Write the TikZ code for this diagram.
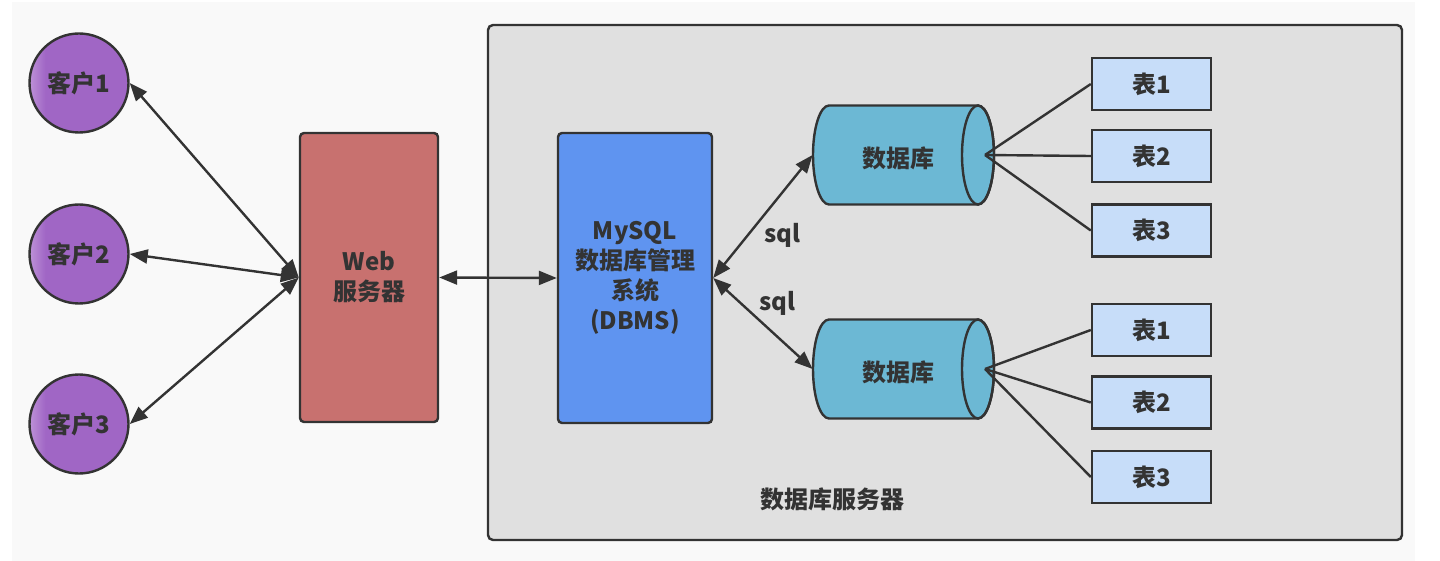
\documentclass[tikz,border=0pt]{standalone}
\usepackage{fontspec}
\setmainfont{Noto Sans CJK SC}
\usetikzlibrary{arrows.meta}
\definecolor{outerbg}{HTML}{F9F9F9}
\definecolor{serverbg}{HTML}{E0E0E0}
\definecolor{linec}{HTML}{333333}
\definecolor{clientpurple}{HTML}{A066C5}
\definecolor{clientlight}{HTML}{BE92D8}
\definecolor{webred}{HTML}{C8716F}
\definecolor{dbmsblue}{HTML}{5F94F0}
\definecolor{dbcyan}{HTML}{6CB8D4}
\definecolor{tablebl}{HTML}{C7DDF9}
\pgfdeclarehorizontalshading{clientshade}{100bp}{color(0bp)=(clientlight); color(25bp)=(clientlight); color(33bp)=(clientpurple); color(100bp)=(clientpurple)}
\begin{document}
\begin{tikzpicture}[x=0.5pt,y=-0.5pt,
  txt/.style={font=\fontsize{12pt}{15pt}\selectfont\bfseries, text=linec, align=center},
  client/.style={circle, minimum size=49.5pt, inner sep=0pt, shade, shading=clientshade, draw=linec, line width=1.2pt, txt},
  bigbox/.style={rectangle, rounded corners=2pt, draw=linec, line width=1.2pt, inner sep=0pt, txt},
  tablebox/.style={rectangle, minimum width=59.5pt, minimum height=26pt, fill=tablebl, draw=linec, line width=1.2pt, inner sep=0pt, txt},
  conn/.style={draw=linec, line width=1.2pt, {Triangle[length=9pt,width=7pt]}-{Triangle[length=9pt,width=7pt]}},
  link/.style={draw=linec, line width=1.2pt},
  cyl/.style={fill=dbcyan, draw=linec, line width=1.2pt, line join=round}
]
\useasboundingbox (0,0) rectangle (1440,561);
\fill[white] (0,0) rectangle (1440,561);
\fill[outerbg] (12,2) rectangle (1415,561);

% database server container
\draw[fill=serverbg, draw=linec, line width=1.2pt, rounded corners=2.5pt] (488,25) rectangle (1402,540);
\node[txt] (serverlabel) at (832,499) {数据库服务器};

% clients
\node[client] (c1) at (79,83) {客户1};
\node[client] (c2) at (79,254) {客户2};
\node[client] (c3) at (79,424) {客户3};

% web server
\node[bigbox, fill=webred, minimum width=69pt, minimum height=144.5pt] (web) at (369,277.5) {Web\\服务器};

% DBMS
\node[bigbox, fill=dbmsblue, minimum width=77pt, minimum height=145pt] (dbms) at (635,278) {MySQL\\数据库管理\\系统\\(DBMS)};

% cylinders
\foreach \yc/\nm in {155/db1, 369/db2}{
  \path[cyl] (978,\yc-49.5) -- (829,\yc-49.5)
     arc[start angle=90,end angle=270,x radius=8pt,y radius=24.75pt]
     -- (978,\yc+49.5)
     arc[start angle=-90,end angle=90,x radius=8pt,y radius=24.75pt] -- cycle;
  \draw[linec, line width=1.2pt] (978,\yc) ellipse[x radius=8pt, y radius=24.75pt];
  \node[txt, minimum width=90.5pt, minimum height=49.5pt, inner sep=0pt] (\nm) at (903.5,\yc) {};
  \node[txt] (\nm label) at (898,\yc+3) {数据库};
  \coordinate (\nm tip) at (985,\yc);
}

% tables
\node[tablebox] (t11) at (1151.5,84) {表1};
\node[tablebox] (t12) at (1151.5,156) {表2};
\node[tablebox] (t13) at (1151.5,230.5) {表3};
\node[tablebox] (t21) at (1151.5,330) {表1};
\node[tablebox] (t22) at (1151.5,402.5) {表2};
\node[tablebox] (t23) at (1151.5,477) {表3};

% connectors
\draw[conn] (c1.east) -- (web.west);
\draw[conn] (c2.east) -- (web.west);
\draw[conn] (c3.east) -- (web.west);
\draw[conn] (web.east) -- (dbms.west);
\draw[conn] (dbms.east) -- (db1.west);
\draw[conn] (dbms.east) -- (db2.west);
\node[txt] (sql1) at (782,235) {sql};
\node[txt] (sql2) at (777,303) {sql};

\foreach \t in {t11,t12,t13}{ \draw[link] (db1tip) -- (\t.west); }
\foreach \t in {t21,t22,t23}{ \draw[link] (db2tip) -- (\t.west); }
\end{tikzpicture}
\end{document}
